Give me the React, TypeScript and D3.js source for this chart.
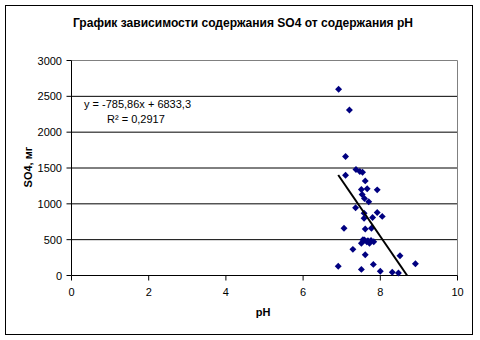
import React from "react";
import * as d3 from "d3";

const phValues = [6.92, 7.2, 7.1, 7.37, 7.47, 7.54, 7.1, 7.61, 7.51, 7.66, 7.92, 7.53, 7.59, 7.7, 7.36, 7.58, 7.58, 7.8, 7.92, 8.05, 7.06, 7.61, 7.77, 7.51, 7.59, 7.68, 7.76, 7.83, 7.72, 7.29, 7.61, 8.51, 6.91, 7.51, 7.82, 8.0, 8.31, 8.47, 8.91, 7.55, 7.65];
const so4Values = [2600, 2310, 1660, 1480, 1450, 1440, 1400, 1320, 1200, 1210, 1195, 1130, 1075, 1030, 945, 870, 800, 810, 880, 825, 660, 650, 660, 450, 495, 485, 490, 470, 450, 365, 290, 275, 130, 85, 155, 60, 45, 35, 165, 500, 470];
const xTicks = [0, 2, 4, 6, 8, 10];
const yTicks = [0, 500, 1000, 1500, 2000, 2500, 3000];
const trendSlope = -785.86;
const trendIntercept = 6833.3;
const title = "График зависимости содержания SO4 от содержания pH";
const xTitle = "pH";
const yTitle = "SO4, мг";
const eqText = "y = -785,86x + 6833,3";
const r2Text = "R² = 0,2917";

export default function App() {
  const x = d3.scaleLinear().domain([0, 10]).range([71.5, 457.5]);
  const y = d3.scaleLinear().domain([0, 3000]).range([275.5, 60.5]);
  const font = "'Liberation Sans', Arial, sans-serif";
  const xMin = d3.min(phValues) as number;
  const xZero = -trendIntercept / trendSlope;
  const xEnd = Math.min(d3.max(phValues) as number, xZero);
  const marker = d3.symbol().type(d3.symbolSquare).size(24);
  return (
    <svg width={480} height={340} style={{ position: "absolute", left: 0, top: 0 }} fontFamily={font}>
      <rect x={0} y={0} width={480} height={340} fill="#fff" />
      <rect x={5.5} y={5.5} width={467} height={329} fill="none" stroke="#000" />
      <text x={243} y={27} textAnchor="middle" fontSize={12} fontWeight="bold" textLength={340} lengthAdjust="spacingAndGlyphs">{title}</text>
      {yTicks.filter(t => t > 0 && t < 3000).map(t => (
        <line key={"g" + t} x1={x(0)} x2={x(10)} y1={y(t)} y2={y(t)} stroke="#000" />
      ))}
      <line x1={x(0)} x2={x(10)} y1={y(3000)} y2={y(3000)} stroke="#808080" />
      <line x1={x(10)} x2={x(10)} y1={y(3000)} y2={y(0)} stroke="#808080" />
      <line x1={x(0)} x2={x(0)} y1={y(3000)} y2={y(0)} stroke="#000" />
      <line x1={x(0)} x2={x(10)} y1={y(0)} y2={y(0)} stroke="#000" />
      {yTicks.map(t => (
        <g key={"y" + t}>
          <line x1={x(0) - 5} x2={x(0)} y1={y(t)} y2={y(t)} stroke="#000" />
          <text x={62} y={y(t) + 4} textAnchor="end" fontSize={11}>{t}</text>
        </g>
      ))}
      {xTicks.map(t => (
        <g key={"x" + t}>
          <line x1={x(t)} x2={x(t)} y1={y(0)} y2={y(0) + 5} stroke="#000" />
          <text x={x(t)} y={296} textAnchor="middle" fontSize={11}>{t}</text>
        </g>
      ))}
      <text x={263} y={316} textAnchor="middle" fontSize={11} fontWeight="bold">{xTitle}</text>
      <text transform={`translate(32,167) rotate(-90)`} textAnchor="middle" fontSize={11} fontWeight="bold">{yTitle}</text>
      {phValues.map((p, i) => (
        <path key={"p" + i} d={marker() as string} transform={`translate(${x(p)},${y(so4Values[i])}) rotate(45)`} fill="#000080" />
      ))}
      <line x1={x(xMin)} y1={y(trendSlope * xMin + trendIntercept)} x2={x(xEnd)} y2={y(Math.max(0, trendSlope * xEnd + trendIntercept))} stroke="#000" strokeWidth={2} />
      <text x={84} y={108} fontSize={11}>{eqText}</text>
      <text x={107} y={123} fontSize={11}>{r2Text}</text>
    </svg>
  );
}
